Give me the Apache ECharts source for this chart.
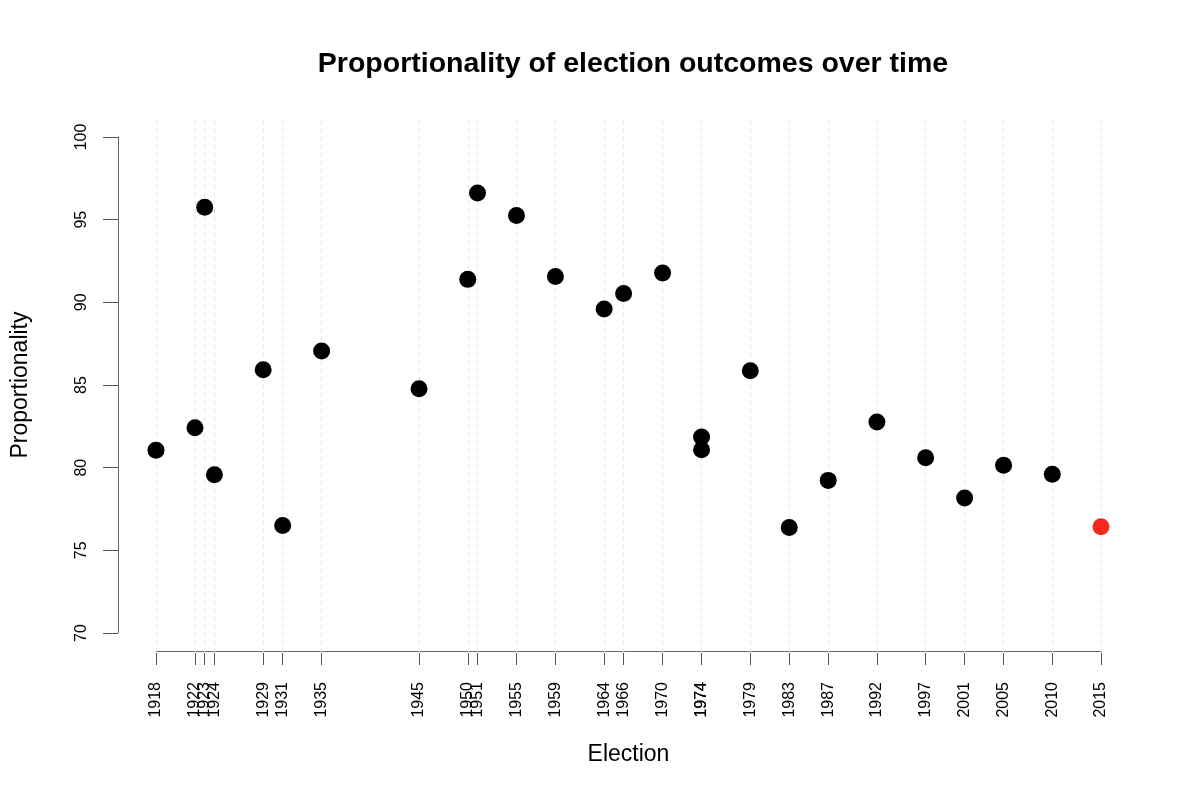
<!DOCTYPE html>
<html>
<head>
<meta charset="utf-8">
<script src="https://cdn.jsdelivr.net/npm/echarts@6/dist/echarts.min.js"></script>
<style>html,body{margin:0;padding:0;background:#fff}#c{width:1200px;height:800px}</style>
</head>
<body>
<div id="c"></div>
<script>
const years = [1918,1922,1923,1924,1929,1931,1935,1945,1950,1951,1955,1959,1964,1966,1970,1974,1974,1979,1983,1987,1992,1997,2001,2005,2010,2015];
const proportionality = [81.06,82.42,95.75,79.57,85.92,76.5,87.06,84.77,91.39,96.62,95.26,91.57,89.6,90.53,91.78,81.86,81.09,85.86,76.38,79.23,82.76,80.6,78.16,80.14,79.6,76.43];
const highlightYear = 2015;
const yTicks = [70,75,80,85,90,95,100];

const FONT = '"Liberation Sans", Arial, Helvetica, sans-serif';
const xMin = 1918, xMax = 2015, yMin = 70, yMax = 100;
const xPad = (xMax - xMin) * 0.04, yPad = (yMax - yMin) * 0.04;

const points = years.map((y, i) => ({
  value: [y, proportionality[i]],
  itemStyle: { color: (y === highlightYear) ? '#f2291d' : '#000000', opacity: 1 }
}));
const uniqueYears = Array.from(new Set(years));

const chart = echarts.init(document.getElementById('c'), null, { renderer: 'canvas' });
chart.setOption({
  animation: false,
  backgroundColor: '#ffffff',
  title: {
    text: 'Proportionality of election outcomes over time',
    left: 628, top: 45, textAlign: 'center',
    textStyle: { fontFamily: FONT, fontSize: 28.5, fontWeight: 'bold', color: '#000' }
  },
  grid: [
    { left: 118.2, right: 61.2, top: 117.2, bottom: 147.2 },
    { left: 156, right: 99, top: 137, bottom: 167 }
  ],
  xAxis: [
    { type: 'value', gridIndex: 0, min: xMin - xPad, max: xMax + xPad, show: false, splitLine: { show: false } },
    {
      type: 'value', gridIndex: 1, min: xMin, max: xMax, offset: 18,
      name: 'Election', nameLocation: 'middle', nameGap: 92,
      nameTextStyle: { fontFamily: FONT, fontSize: 23, color: '#000' },
      axisLine: { show: true, lineStyle: { color: '#666', width: 1 } },
      axisTick: { show: true, length: 14, customValues: years, lineStyle: { color: '#555', width: 1 } },
      axisLabel: { show: true, rotate: 90, margin: 31, customValues: years, fontFamily: FONT, fontSize: 16, color: '#000', hideOverlap: false,
        formatter: v => String(v) },
      splitLine: { show: false }
    }
  ],
  yAxis: [
    { type: 'value', gridIndex: 0, min: yMin - yPad, max: yMax + yPad, show: false, splitLine: { show: false } },
    {
      type: 'value', gridIndex: 1, min: yMin, max: yMax, interval: 5, offset: 38,
      name: 'Proportionality', nameLocation: 'middle', nameGap: 86,
      nameTextStyle: { fontFamily: FONT, fontSize: 23, color: '#000' },
      axisLine: { show: true, lineStyle: { color: '#666', width: 1 } },
      axisTick: { show: true, length: 15, lineStyle: { color: '#555', width: 1 } },
      axisLabel: { show: true, rotate: 90, margin: 28, fontFamily: FONT, fontSize: 16, color: '#000' },
      splitLine: { show: false }
    }
  ],
  series: [
    {
      type: 'scatter', xAxisIndex: 0, yAxisIndex: 0, data: [], z: 1, silent: true,
      markLine: {
        silent: true, symbol: 'none', label: { show: false }, animation: false,
        lineStyle: { type: [4, 4], color: '#e3e3e3', width: 1 },
        data: uniqueYears.map(y => ({ xAxis: y }))
      }
    },
    {
      type: 'scatter', xAxisIndex: 0, yAxisIndex: 0, z: 5, clip: false,
      symbol: 'circle', symbolSize: 17,
      itemStyle: { opacity: 1 },
      data: points
    }
  ]
});
</script>
</body>
</html>
